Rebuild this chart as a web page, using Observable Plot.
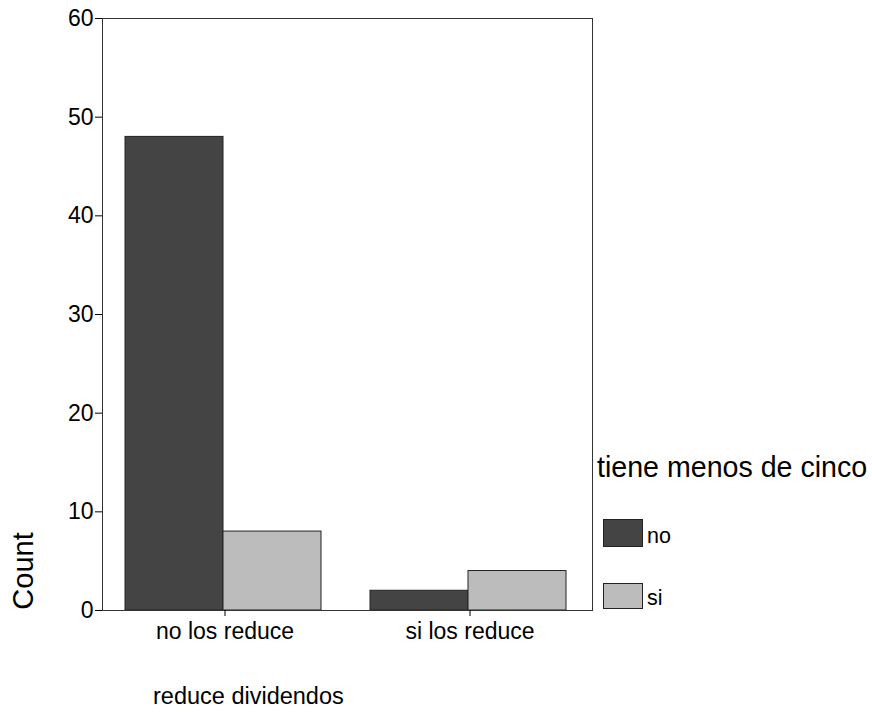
<!DOCTYPE html>
<html><head><meta charset="utf-8">
<script src="https://cdn.jsdelivr.net/npm/d3@7"></script>
<script src="https://cdn.jsdelivr.net/npm/@observablehq/plot@0.6"></script>
<style>
body{margin:0;background:#fff;font-family:"Liberation Sans",Arial,sans-serif;color:#000;}
#wrap{position:relative;width:872px;height:717px;overflow:hidden;}
.abs{position:absolute;white-space:nowrap;line-height:normal;}
#ylab{left:23px;top:571px;font-size:29px;transform:translate(-50%,-50%) rotate(-90deg);}
#xlab{left:153px;top:683px;font-size:23.5px;}
#legtitle{left:597px;top:451px;font-size:28.6px;}
.sw{position:absolute;width:40px;box-sizing:border-box;border:1px solid #222;}
.swl{position:absolute;font-size:21.5px;line-height:normal;}
</style></head><body><div id="wrap"></div>
<script>
const groups = ["no los reduce", "si los reduce"];
const series = ["no", "si"];
const countNo = [48, 2];
const countSi = [8, 4];
const colors = ["#444444", "#bcbcbc"];
const yTicks = [0, 10, 20, 30, 40, 50, 60];
const xTitle = "reduce dividendos";
const yTitle = "Count";
const legendTitle = "tiene menos de cinco";

const data = groups.flatMap((g, i) => [
  {group: g, series: series[0], count: countNo[i]},
  {group: g, series: series[1], count: countSi[i]}
]);

const chart = Plot.plot({
  width: 872, height: 717,
  marginLeft: 101, marginRight: 280, marginTop: 18, marginBottom: 107,
  style: {fontFamily: '"Liberation Sans", Arial, sans-serif', fontSize: "23px", color: "#000", background: "#fff"},
  fx: {domain: groups, padding: 0, label: null},
  x: {domain: series, paddingInner: 0, paddingOuter: 0.24, align: 0.46, axis: null},
  y: {domain: [0, 60], label: null},
  color: {domain: series, range: colors},
  marks: [
    Plot.barY(data, {fx: "group", x: "series", y: "count", fill: "series", stroke: "#222", strokeWidth: 1}),
    Plot.frame({facet: "super", stroke: "#333"}),
    Plot.axisY({ticks: yTicks, tickSize: 7, tickPadding: 2, label: null, fontSize: 23}),
    Plot.axisFx({anchor: "bottom", tickSize: 6, tickPadding: 6, label: null, fontSize: 23})
  ]
});
const wrap = document.getElementById("wrap");
chart.style.position = "absolute";
chart.style.left = "0"; chart.style.top = "0";
wrap.appendChild(chart);

function addText(id, cls, txt) {
  const d = document.createElement("div");
  d.id = id; d.className = cls; d.textContent = txt; wrap.appendChild(d); return d;
}
addText("ylab", "abs", yTitle);
addText("xlab", "abs", xTitle);
addText("legtitle", "abs", legendTitle);
const swTops = [519, 583];
const swHeights = [28, 26];
const labTops = [524, 586];
series.forEach((s, i) => {
  const sw = document.createElement("div");
  sw.className = "sw";
  sw.style.left = "603px"; sw.style.top = swTops[i] + "px";
  sw.style.height = swHeights[i] + "px";
  sw.style.background = colors[i];
  wrap.appendChild(sw);
  const l = document.createElement("div");
  l.className = "swl"; l.textContent = s;
  l.style.left = "647px"; l.style.top = labTops[i] + "px";
  wrap.appendChild(l);
});
</script></body></html>
